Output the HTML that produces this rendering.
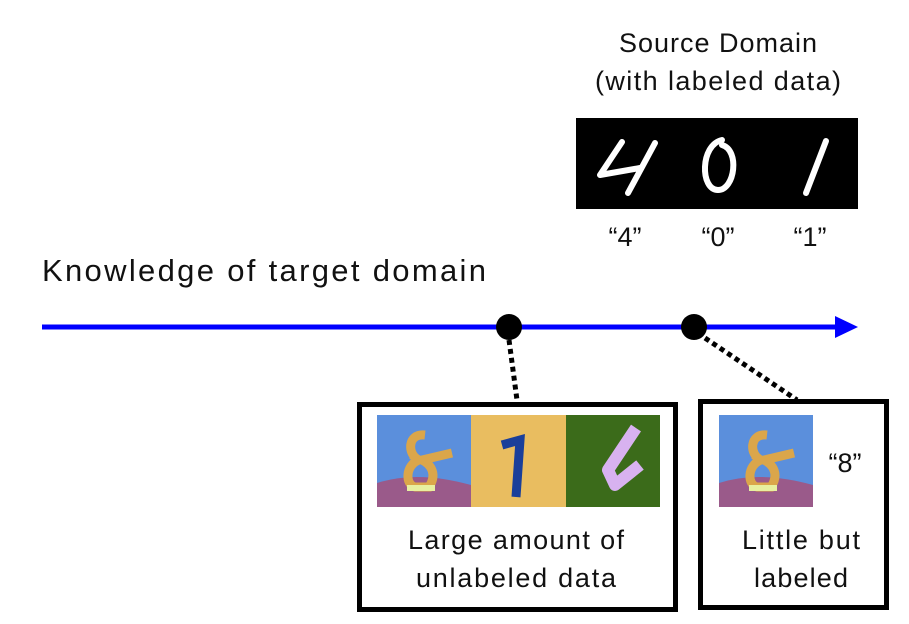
<!DOCTYPE html>
<html><head><meta charset="utf-8"><style>
html,body{margin:0;padding:0;background:#fff;}
svg{display:block;font-family:"Liberation Sans","DejaVu Sans",sans-serif;}
</style></head><body>
<svg width="909" height="624" viewBox="0 0 909 624" xmlns="http://www.w3.org/2000/svg">
<rect width="909" height="624" fill="#fff"/>
<text x="718" y="52" font-size="27" text-anchor="middle" fill="#111" textLength="198">Source Domain</text>
<text x="718" y="90" font-size="27" text-anchor="middle" fill="#111" textLength="246">(with labeled data)</text>
<rect x="576" y="118" width="282" height="91" fill="#000"/>
<g stroke="#fff" stroke-width="6" fill="none" stroke-linecap="round" stroke-linejoin="round">
<path d="M622 142 L600 175 L640 168 M655 143 L628 193"/>
<path d="M722 140 C700 145 700 190 718 190 C735 190 740 150 722 145"/>
<path d="M826 141 L806 193"/>
</g>
<text x="625" y="246" font-size="27" text-anchor="middle" fill="#111">“4”</text>
<text x="718" y="246" font-size="27" text-anchor="middle" fill="#111">“0”</text>
<text x="810" y="246" font-size="27" text-anchor="middle" fill="#111">“1”</text>
<text x="42" y="281" font-size="31" fill="#111" textLength="444">Knowledge of target domain</text>
<line x1="42" y1="327" x2="838" y2="327" stroke="#0000ff" stroke-width="5"/>
<polygon points="835,316 858,327 835,338" fill="#0000ff"/>
<line x1="509" y1="340" x2="517" y2="400" stroke="#000" stroke-width="5" stroke-dasharray="5,4"/>
<line x1="705" y1="338" x2="797" y2="400" stroke="#000" stroke-width="5" stroke-dasharray="5,4"/>
<circle cx="509" cy="327" r="13" fill="#000"/>
<circle cx="694" cy="327" r="13" fill="#000"/>
<rect x="359.5" y="404.5" width="316" height="205" fill="none" stroke="#000" stroke-width="5"/>
<rect x="700.5" y="401.5" width="186" height="206" fill="none" stroke="#000" stroke-width="5"/>
<defs>
<g id="eight">
<rect width="94" height="92" fill="#5b8fdc"/>
<path d="M0 68 Q40 55 94 70 L94 92 L0 92Z" fill="#9a5a8a"/>
<path d="M48 20 C30 18 30 40 42 45 C28 50 28 70 38 72 L52 72 C60 60 55 50 45 45 L75 38" stroke="#dba64a" stroke-width="9" fill="none"/>
<rect x="30" y="70" width="28" height="6" fill="#e8f0a0"/>
</g>
</defs>
<use href="#eight" x="377" y="415"/>
<rect x="471" y="415" width="95" height="92" fill="#e9bd60"/>
<path d="M502 445 L520 440 L516 497" stroke="#1a3f9a" stroke-width="9" fill="none"/>
<rect x="566" y="415" width="94" height="92" fill="#3b6b1a"/>
<path d="M636 428 L608 470 L615 485 L640 465" stroke="#d8b2f0" stroke-width="12" fill="none" stroke-linejoin="round"/>
<use href="#eight" x="719" y="415"/>
<text x="845" y="472" font-size="27" text-anchor="middle" fill="#111">“8”</text>
<text x="516" y="549" font-size="27" text-anchor="middle" fill="#111" textLength="216">Large amount of</text>
<text x="516" y="587" font-size="27" text-anchor="middle" fill="#111" textLength="200">unlabeled data</text>
<text x="801" y="549" font-size="27" text-anchor="middle" fill="#111" textLength="118">Little but</text>
<text x="801" y="587" font-size="27" text-anchor="middle" fill="#111" textLength="94">labeled</text>
</svg>
</body></html>
